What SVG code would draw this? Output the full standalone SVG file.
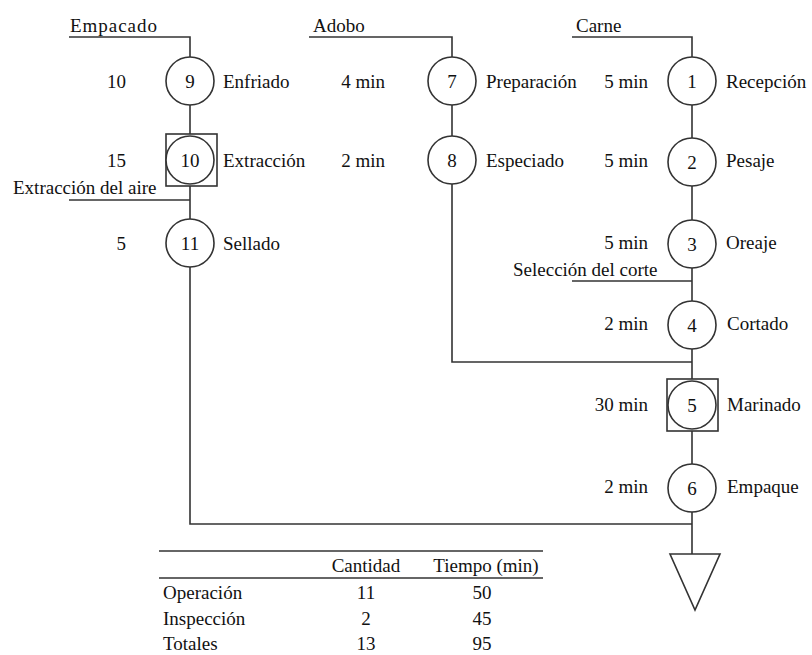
<svg xmlns="http://www.w3.org/2000/svg" width="812" height="655" viewBox="0 0 812 655">
  <style>
    text { font-family: "Liberation Serif", "Times New Roman", serif; font-size: 19px; fill: #111; }
    .num { text-anchor: middle; }
    .lt { text-anchor: end; }
    .line { fill: none; stroke: #333; stroke-width: 1.6; }
    .op { fill: #fff; stroke: #333; stroke-width: 1.6; }
  </style>
  <rect width="812" height="655" fill="#fff"/>

  <g font-family="Liberation Serif, serif">
  <!-- connectors -->
  <g id="connectors" class="line">
    <!-- Empacado branch -->
    <polyline points="69,37 190,37 190,57"/>
    <line x1="190" y1="105" x2="190" y2="136"/>
    <line x1="190" y1="184" x2="190" y2="219"/>
    <line x1="69" y1="200" x2="190" y2="200"/>
    <polyline points="190,267 190,524 692,524"/>
    <!-- Adobo branch -->
    <polyline points="309,37 452,37 452,57"/>
    <line x1="452" y1="105" x2="452" y2="136"/>
    <polyline points="452,184 452,362 692,362"/>
    <!-- Carne branch -->
    <polyline points="572,37 692,37 692,57"/>
    <line x1="692" y1="105" x2="692" y2="138"/>
    <line x1="692" y1="186" x2="692" y2="220"/>
    <line x1="692" y1="268" x2="692" y2="301"/>
    <line x1="572" y1="281" x2="692" y2="281"/>
    <line x1="692" y1="349" x2="692" y2="381"/>
    <line x1="692" y1="429" x2="692" y2="464"/>
    <line x1="692" y1="512" x2="692" y2="554"/>
  </g>

  <!-- branch labels -->
  <text x="70" y="32" textLength="87">Empacado</text>
  <text x="313" y="32">Adobo</text>
  <text x="576" y="32">Carne</text>
  <text x="13" y="194">Extracción del aire</text>
  <text x="513" y="276">Selección del corte</text>

  <!-- Empacado column -->
  <g id="node9">
    <circle class="op" cx="190" cy="81" r="24"/>
    <text class="num" x="190" y="88">9</text>
    <text class="lt" x="126" y="88">10</text>
    <text x="223" y="88">Enfriado</text>
  </g>
  <g id="node10">
    <rect class="op" x="166" y="134" width="51" height="52"/>
    <circle class="op" cx="190" cy="160" r="24"/>
    <text class="num" x="190" y="167">10</text>
    <text class="lt" x="126" y="167">15</text>
    <text x="223" y="167">Extracción</text>
  </g>
  <g id="node11">
    <circle class="op" cx="190" cy="243" r="24"/>
    <text class="num" x="190" y="250">11</text>
    <text class="lt" x="126" y="250">5</text>
    <text x="223" y="250">Sellado</text>
  </g>

  <!-- Adobo column -->
  <g id="node7">
    <circle class="op" cx="452" cy="81" r="24"/>
    <text class="num" x="452" y="88">7</text>
    <text class="lt" x="385" y="88">4 min</text>
    <text x="486" y="88">Preparación</text>
  </g>
  <g id="node8">
    <circle class="op" cx="452" cy="160" r="24"/>
    <text class="num" x="452" y="167">8</text>
    <text class="lt" x="385" y="167">2 min</text>
    <text x="486" y="167">Especiado</text>
  </g>

  <!-- Carne column -->
  <g id="node1">
    <circle class="op" cx="692" cy="81" r="24"/>
    <text class="num" x="692" y="88">1</text>
    <text class="lt" x="648" y="88">5 min</text>
    <text x="726" y="88">Recepción</text>
  </g>
  <g id="node2">
    <circle class="op" cx="692" cy="162" r="24"/>
    <text class="num" x="692" y="169">2</text>
    <text class="lt" x="648" y="167">5 min</text>
    <text x="726" y="167">Pesaje</text>
  </g>
  <g id="node3">
    <circle class="op" cx="692" cy="244" r="24"/>
    <text class="num" x="692" y="251">3</text>
    <text class="lt" x="648" y="249">5 min</text>
    <text x="726" y="249">Oreaje</text>
  </g>
  <g id="node4">
    <circle class="op" cx="692" cy="325" r="24"/>
    <text class="num" x="692" y="332">4</text>
    <text class="lt" x="648" y="330">2 min</text>
    <text x="727" y="330">Cortado</text>
  </g>
  <g id="node5">
    <rect class="op" x="667" y="379" width="51" height="52"/>
    <circle class="op" cx="692" cy="405" r="24"/>
    <text class="num" x="692" y="412">5</text>
    <text class="lt" x="648" y="411">30 min</text>
    <text x="727" y="411">Marinado</text>
  </g>
  <g id="node6">
    <circle class="op" cx="692" cy="488" r="24"/>
    <text class="num" x="692" y="495">6</text>
    <text class="lt" x="648" y="493">2 min</text>
    <text x="727" y="493">Empaque</text>
  </g>

  <!-- storage -->
  <g id="storage">
    <polygon class="op" points="670,554 720,554 695,610"/>
  </g>

  <!-- summary table -->
  <g id="summary">
    <line class="line" x1="159" y1="551" x2="543" y2="551"/>
    <line class="line" x1="159" y1="578" x2="543" y2="578"/>
    <text class="num" x="366" y="572">Cantidad</text>
    <text class="num" x="486" y="572">Tiempo (min)</text>
    <text x="163" y="599">Operación</text>
    <text class="num" x="366" y="599">11</text>
    <text class="num" x="482" y="599">50</text>
    <text x="163" y="625">Inspección</text>
    <text class="num" x="366" y="625">2</text>
    <text class="num" x="482" y="625">45</text>
    <text x="163" y="650">Totales</text>
    <text class="num" x="366" y="650">13</text>
    <text class="num" x="482" y="650">95</text>
  </g>
  </g>
</svg>
